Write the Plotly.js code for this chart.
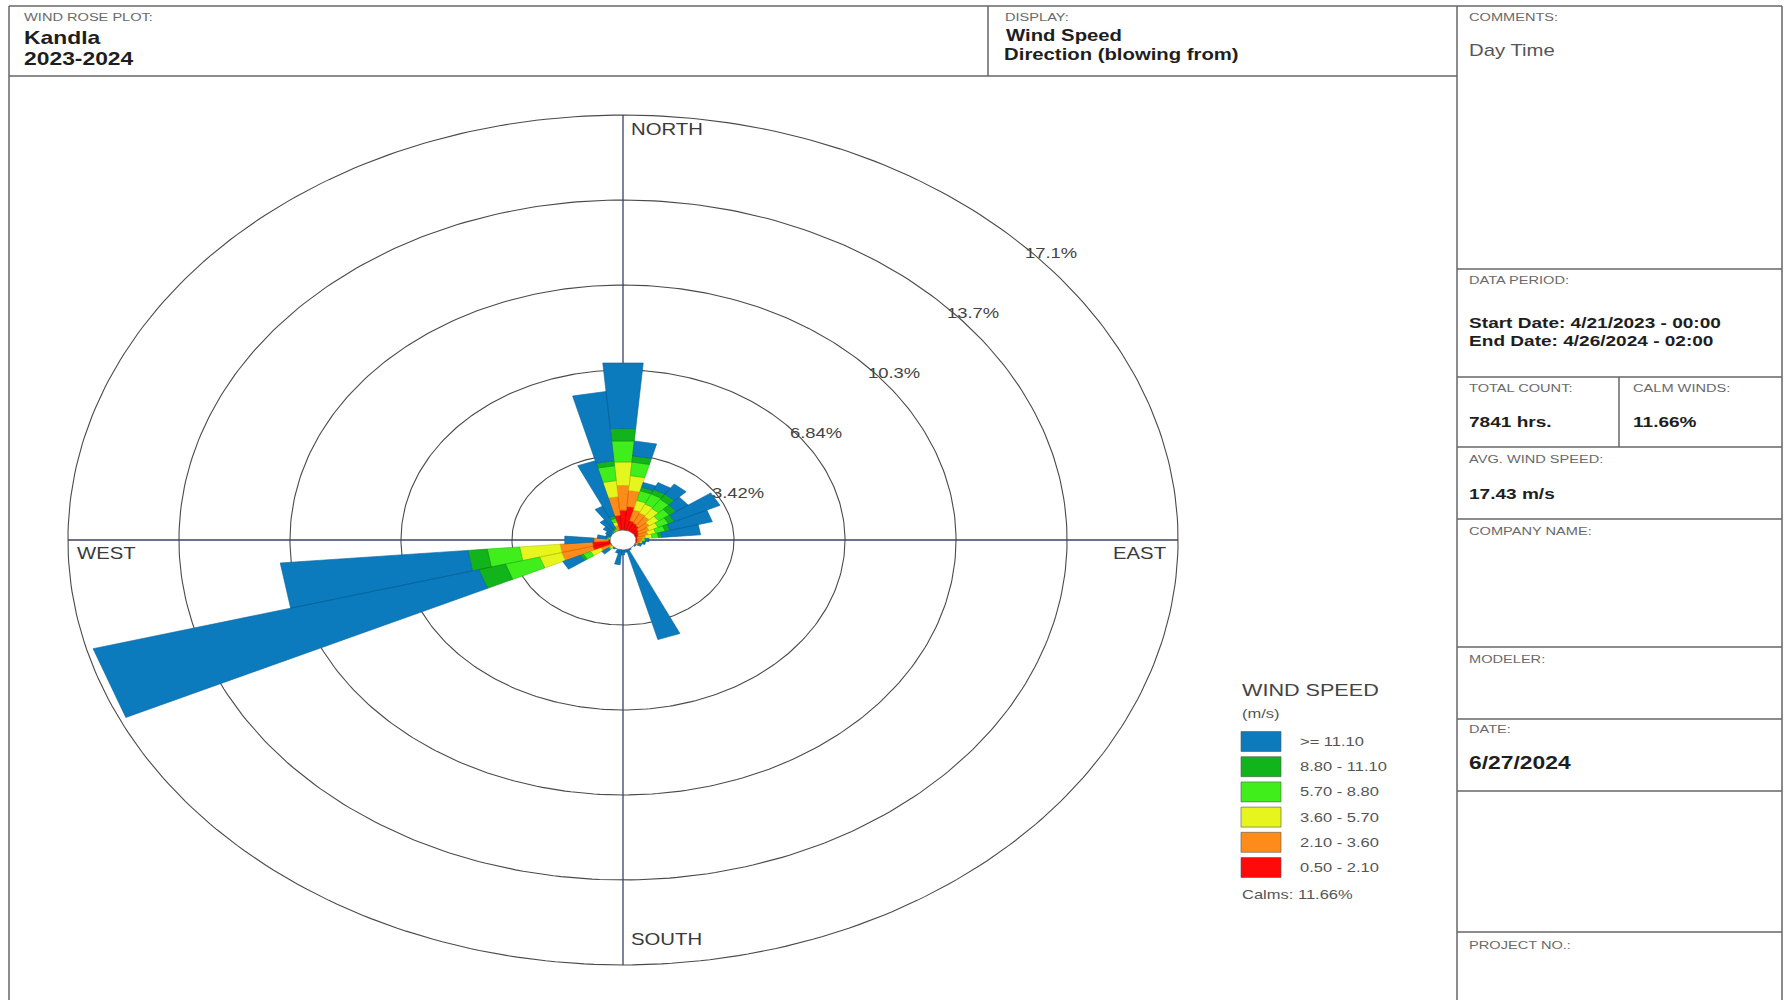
<!DOCTYPE html>
<html><head><meta charset="utf-8">
<script src="https://cdn.plot.ly/plotly-3.0.1.min.js"></script>
<style>
html,body{margin:0;padding:0;background:#fff;}
#chart{width:1789px;height:1000px;}
/* the reference's lettering is horizontally stretched */
#chart .annotation-text{transform-box:fill-box;transform-origin:0 50%;transform:scaleX(1.27);}
</style>
</head><body><div id="chart"></div>
<script>
// ---- DATA ----
const directions = [0,10,20,30,40,50,60,70,80,90,100,110,120,130,140,150,160,170,180,190,200,210,220,230,240,250,260,270,280,290,300,310,320,330,340,350];
const speedClasses = ['0.50 - 2.10','2.10 - 3.60','3.60 - 5.70','5.70 - 8.80','8.80 - 11.10','>= 11.10'];
const classColors = ['#ff0a0a','#ff8c1a','#e6f51e','#40ee1c','#12b41c','#0b7bbd'];
const classLines  = ['#c80000','#d86a00','#b8c400','#22c010','#0a8a12','#08619a'];
// percent frequency per direction for each speed class
const pct_0_50_2_10  = [1.20,1.35,0.80,0.75,0.70,0.60,0.55,0.50,0.45,0.45,0.45,0.40,0.30,0.20,0.15,0.15,0.15,0.15,0.10,0.10,0.10,0.10,0.15,0.25,0.40,0.97,0.95,0.45,0.30,0.25,0.25,0.25,0.30,0.30,0.40,1.00];
const pct_2_10_3_60  = [1.00,0.65,0.45,0.45,0.45,0.40,0.35,0.30,0.25,0.15,0.10,0.10,0.05,0.05,0.05,0.05,0.05,0.05,0.05,0.05,0.05,0.05,0.05,0.15,0.35,0.99,1.00,0.45,0.10,0.05,0.05,0.05,0.05,0.10,0.20,0.75];
const pct_3_60_5_70  = [0.95,0.60,0.40,0.40,0.40,0.35,0.30,0.25,0.20,0.05,0.05,0.00,0.00,0.00,0.00,0.05,0.05,0.00,0.00,0.05,0.00,0.00,0.05,0.10,0.35,0.70,1.25,0.00,0.05,0.05,0.05,0.05,0.05,0.05,0.15,0.65];
const pct_5_70_8_80  = [0.85,0.55,0.40,0.45,0.45,0.40,0.35,0.30,0.20,0.05,0.00,0.00,0.00,0.00,0.00,0.00,0.05,0.00,0.00,0.00,0.00,0.00,0.00,0.05,0.25,1.09,1.00,0.00,0.05,0.00,0.00,0.05,0.05,0.05,0.15,0.60];
const pct_8_80_11_10 = [0.50,0.25,0.15,0.20,0.25,0.25,0.20,0.15,0.10,0.00,0.00,0.00,0.00,0.00,0.00,0.00,0.05,0.00,0.00,0.00,0.00,0.00,0.00,0.00,0.10,0.85,0.60,0.00,0.00,0.00,0.00,0.00,0.05,0.05,0.10,0.20];
const pct_ge_11_10   = [2.65,0.60,0.20,0.30,0.50,0.45,1.55,1.35,1.20,0.10,0.10,0.10,0.10,0.10,0.10,0.20,3.80,0.30,0.45,0.80,0.40,0.25,0.20,0.25,0.60,12.30,5.80,0.90,0.30,0.20,0.25,0.35,0.50,0.95,2.30,2.80];
const ringValues = [3.42, 6.84, 10.26, 13.68, 17.1];
const ringLabels = ['3.42%','6.84%','10.3%','13.7%','17.1%'];
const calmLabel = 'Calms: 11.66%';

// ---- PAGE GEOMETRY ----
const W = 1789, H = 1000;
const CX = 623, CY = 540;          // rose centre (px)
const KX = 32.46, KY = 24.85;      // px per percent (horizontal / vertical)
const FONT = 'Liberation Sans, Arial, Helvetica, sans-serif';
const SECTOR_HALF = 5;             // degrees

const seriesList = [pct_0_50_2_10, pct_2_10_3_60, pct_3_60_5_70, pct_5_70_8_80, pct_8_80_11_10, pct_ge_11_10];
const rad = d => d*Math.PI/180;
const px = x => x/W;
const py = y => 1 - y/H;

const traces = [];

// rings
ringValues.forEach(v => {
  const xs=[], ys=[];
  for (let a=0; a<=360; a+=1){ xs.push(v*Math.sin(rad(a))); ys.push(v*Math.cos(rad(a))); }
  traces.push({type:'scatter', mode:'lines', x:xs, y:ys, line:{color:'#4a4a4a', width:1.1}, hoverinfo:'skip', showlegend:false});
});
// compass axes
const rMax = ringValues[ringValues.length-1];
traces.push({type:'scatter', mode:'lines', x:[-rMax, rMax, null, 0, 0], y:[0, 0, null, -rMax, rMax],
  line:{color:'#3c3f6a', width:1.3}, hoverinfo:'skip', showlegend:false});

// stacked sector bars
const cum = directions.map(()=>0);
seriesList.forEach((vals, ci) => {
  const xs=[], ys=[];
  directions.forEach((d, i) => {
    const r0 = cum[i], r1 = cum[i] + vals[i];
    cum[i] = r1;
    if (vals[i] <= 0) return;
    const a0 = rad(d - SECTOR_HALF), a1 = rad(d + SECTOR_HALF);
    xs.push(r0*Math.sin(a0), r1*Math.sin(a0), r1*Math.sin(a1), r0*Math.sin(a1), r0*Math.sin(a0), null);
    ys.push(r0*Math.cos(a0), r1*Math.cos(a0), r1*Math.cos(a1), r0*Math.cos(a1), r0*Math.cos(a0), null);
  });
  traces.push({type:'scatter', mode:'lines', x:xs, y:ys, fill:'toself', fillcolor:classColors[ci],
    line:{color:classLines[ci], width:0.6}, hoverinfo:'skip', showlegend:false, name:speedClasses[ci]});
});

// calm circle
(() => {
  const rc = 0.4, xs=[], ys=[];
  for (let a=0; a<=360; a+=5){ xs.push(rc*Math.sin(rad(a))); ys.push(rc*Math.cos(rad(a))); }
  traces.push({type:'scatter', mode:'lines', x:xs, y:ys, fill:'toself', fillcolor:'#ffffff',
    line:{color:'#666', width:0.8}, hoverinfo:'skip', showlegend:false});
})();

// ---- SHAPES (frame + legend swatches) ----
const LC = '#666';
const shapes = [];
const hline = (y, x0, x1) => shapes.push({type:'line', xref:'paper', yref:'paper', x0:px(x0), x1:px(x1), y0:py(y), y1:py(y), line:{color:LC, width:1.5}});
const vline = (x, y0, y1) => shapes.push({type:'line', xref:'paper', yref:'paper', x0:px(x), x1:px(x), y0:py(y0), y1:py(y1), line:{color:LC, width:1.5}});
hline(6, 9, 1782); vline(9, 6, 1000); vline(1782, 6, 1000);
hline(76, 9, 1457); vline(988, 6, 76); vline(1457, 6, 1000);
[269, 377, 447, 519, 647, 719, 791, 932].forEach(y => hline(y, 1457, 1782));
vline(1619, 377, 447);

// legend swatches (top: highest class)
const legTop = 731.5, legStep = 25.2, swH = 20;
const annotations = [];
for (let k=0; k<speedClasses.length; k++){
  const ci = speedClasses.length-1-k;
  const y0 = legTop + k*legStep;
  shapes.push({type:'rect', xref:'paper', yref:'paper', x0:px(1241), x1:px(1281), y0:py(y0), y1:py(y0+swH),
    fillcolor:classColors[ci], line:{color:'#555', width:0.6}});
  annotations.push({xref:'paper', yref:'paper', x:px(1298), y:py(y0+swH/2), text:speedClasses[ci],
    showarrow:false, xanchor:'left', yanchor:'middle', font:{family:FONT, size:13, color:'#555'}});
}

// ---- TEXT ----
const txt = (x, y, t, size, color, extra) => annotations.push(Object.assign({xref:'paper', yref:'paper', x:px(x), y:py(y), text:t,
  showarrow:false, xanchor:'left', yanchor:'middle', font:{family:FONT, size:size, color:color}}, extra||{}));
const CAP = '#6a6a6a', VAL = '#1e1e1e';
txt(22, 17, 'WIND ROSE PLOT:', 11.5, CAP);
txt(22, 38, '<b>Kandla</b>', 18, VAL);
txt(22, 59, '<b>2023-2024</b>', 18, VAL);
txt(1003, 17, 'DISPLAY:', 11.5, CAP);
txt(1004, 35, '<b>Wind Speed</b>', 16, VAL);
txt(1002, 54, '<b>Direction (blowing from)</b>', 16, VAL);
txt(1467, 17, 'COMMENTS:', 11.5, CAP);
txt(1467, 50, 'Day Time', 16, '#555');
txt(1467, 280, 'DATA PERIOD:', 11.5, CAP);
txt(1467, 323, '<b>Start Date: 4/21/2023 - 00:00</b>', 15, VAL);
txt(1467, 341, '<b>End Date: 4/26/2024 - 02:00</b>', 15, VAL);
txt(1467, 388, 'TOTAL COUNT:', 11.5, CAP);
txt(1467, 421, '<b>7841 hrs.</b>', 15, VAL);
txt(1631, 388, 'CALM WINDS:', 11.5, CAP);
txt(1631, 421, '<b>11.66%</b>', 15, VAL);
txt(1467, 459, 'AVG. WIND SPEED:', 11.5, CAP);
txt(1467, 493, '<b>17.43 m/s</b>', 15, VAL);
txt(1467, 531, 'COMPANY NAME:', 11.5, CAP);
txt(1467, 659, 'MODELER:', 11.5, CAP);
txt(1467, 729, 'DATE:', 11.5, CAP);
txt(1467, 763, '<b>6/27/2024</b>', 18, VAL);
txt(1467, 945, 'PROJECT NO.:', 11.5, CAP);

// compass labels
txt(629, 129, 'NORTH', 16, '#3a3a3a');
txt(629, 939, 'SOUTH', 16, '#3a3a3a');
txt(75, 553, 'WEST', 16, '#3a3a3a');
txt(1111, 553, 'EAST', 16, '#3a3a3a');

// legend title
txt(1240, 690, 'WIND SPEED', 17, '#444');
txt(1240, 713, '(m/s)', 13, '#555');
txt(1240, 894, calmLabel, 13, '#555');

// ring labels (data coordinates, at 45 degrees)
ringValues.forEach((v, i) => {
  annotations.push({xref:'x', yref:'y', x:v*Math.sin(rad(45)), y:v*Math.cos(rad(45)), text:ringLabels[i],
    showarrow:false, xanchor:'left', yanchor:'middle', xshift:8, yshift:-13, font:{family:FONT, size:14.5, color:'#444'}});
});

const layout = {
  width:W, height:H, margin:{l:0, r:0, t:0, b:0}, paper_bgcolor:'#fff', plot_bgcolor:'#fff',
  showlegend:false, hovermode:false,
  xaxis:{range:[-CX/KX, (W-CX)/KX], visible:false, fixedrange:true},
  yaxis:{range:[-(H-CY)/KY, CY/KY], visible:false, fixedrange:true},
  shapes:shapes, annotations:annotations
};
Plotly.newPlot('chart', traces, layout, {staticPlot:true, displayModeBar:false});
</script>
</body></html>
